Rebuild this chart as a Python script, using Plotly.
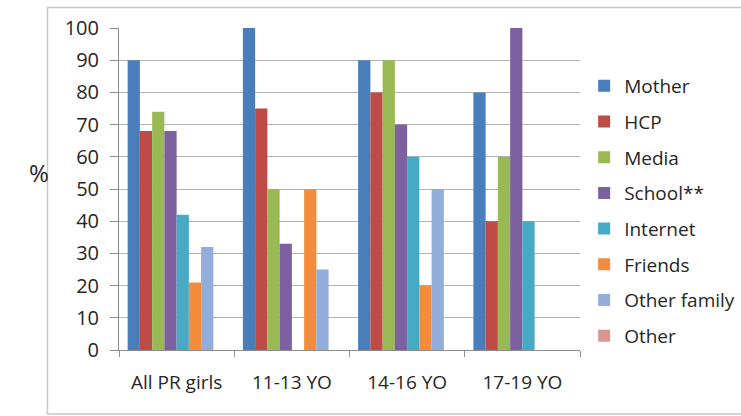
import plotly.graph_objects as go

categories = ["All PR girls", "11-13 YO", "14-16 YO", "17-19 YO"]
series_names = ["Mother", "HCP", "Media", "School**", "Internet", "Friends", "Other family", "Other"]
mother = [90, 100, 90, 80]
hcp = [68, 75, 80, 40]
media = [74, 50, 90, 60]
school = [68, 33, 70, 100]
internet = [42, 0, 60, 40]
friends = [21, 50, 20, 0]
other_family = [32, 25, 50, 0]
other = [0, 0, 0, 0]
series_values = [mother, hcp, media, school, internet, friends, other_family, other]
colors = ["#4A7EBB", "#BE4B48", "#98B954", "#7D60A0", "#46AAC5", "#F38D3D", "#93ADDA", "#D99694"]
y_ticks = list(range(0, 101, 10))

font_family = "Open Sans, Liberation Sans, sans-serif"
fig = go.Figure()
for i, (name, vals) in enumerate(zip(series_names, series_values)):
    fig.add_trace(go.Bar(x=categories, y=vals, name=name, marker_color=colors[i],
                         marker_line_width=0, legendgroup=name))

fig.update_layout(
    width=741, height=416,
    margin=dict(l=119, r=161, t=28, b=66, autoexpand=False),
    paper_bgcolor="white", plot_bgcolor="white",
    barmode="group", bargap=0.15, bargroupgap=0,
    font=dict(family=font_family, size=19, color="#262626"),
    showlegend=True,
    legend=dict(x=1.009, y=0.879, xanchor="left", yanchor="top",
                font=dict(size=19, color="#262626"), tracegroupgap=8,
                itemwidth=30, bgcolor="rgba(0,0,0,0)"),
    xaxis=dict(type="category", tickson="boundaries", ticks="outside", ticklen=6,
               tickcolor="#8c8c8c", showline=True, linecolor="#8c8c8c", linewidth=1,
               showgrid=False, tickfont=dict(size=19), ticklabelstandoff=15),
    yaxis=dict(range=[0, 100], tickvals=y_ticks, ticks="outside", ticklen=8,
               tickcolor="#8c8c8c", showline=True, linecolor="#8c8c8c", linewidth=1,
               showgrid=True, gridcolor="#b3b3b3", gridwidth=1, zeroline=False,
               tickfont=dict(size=20), ticklabelstandoff=7),
    shapes=[dict(type="rect", xref="paper", yref="paper",
                 x0=(47.5 - 119) / 461, x1=(745 - 119) / 461,
                 y0=(350 - 414) / 322, y1=(350 - 7.5) / 322,
                 line=dict(color="#c8c8c8", width=1.5), layer="below")],
    annotations=[dict(text="%", xref="paper", yref="paper", x=(27 - 119) / 461,
                      y=(350 - 172) / 322, showarrow=False,
                      font=dict(size=24, color="#262626"))],
)

fig.write_html("out.html", config={"displayModeBar": False},
               post_script="document.body.style.margin='0';")
